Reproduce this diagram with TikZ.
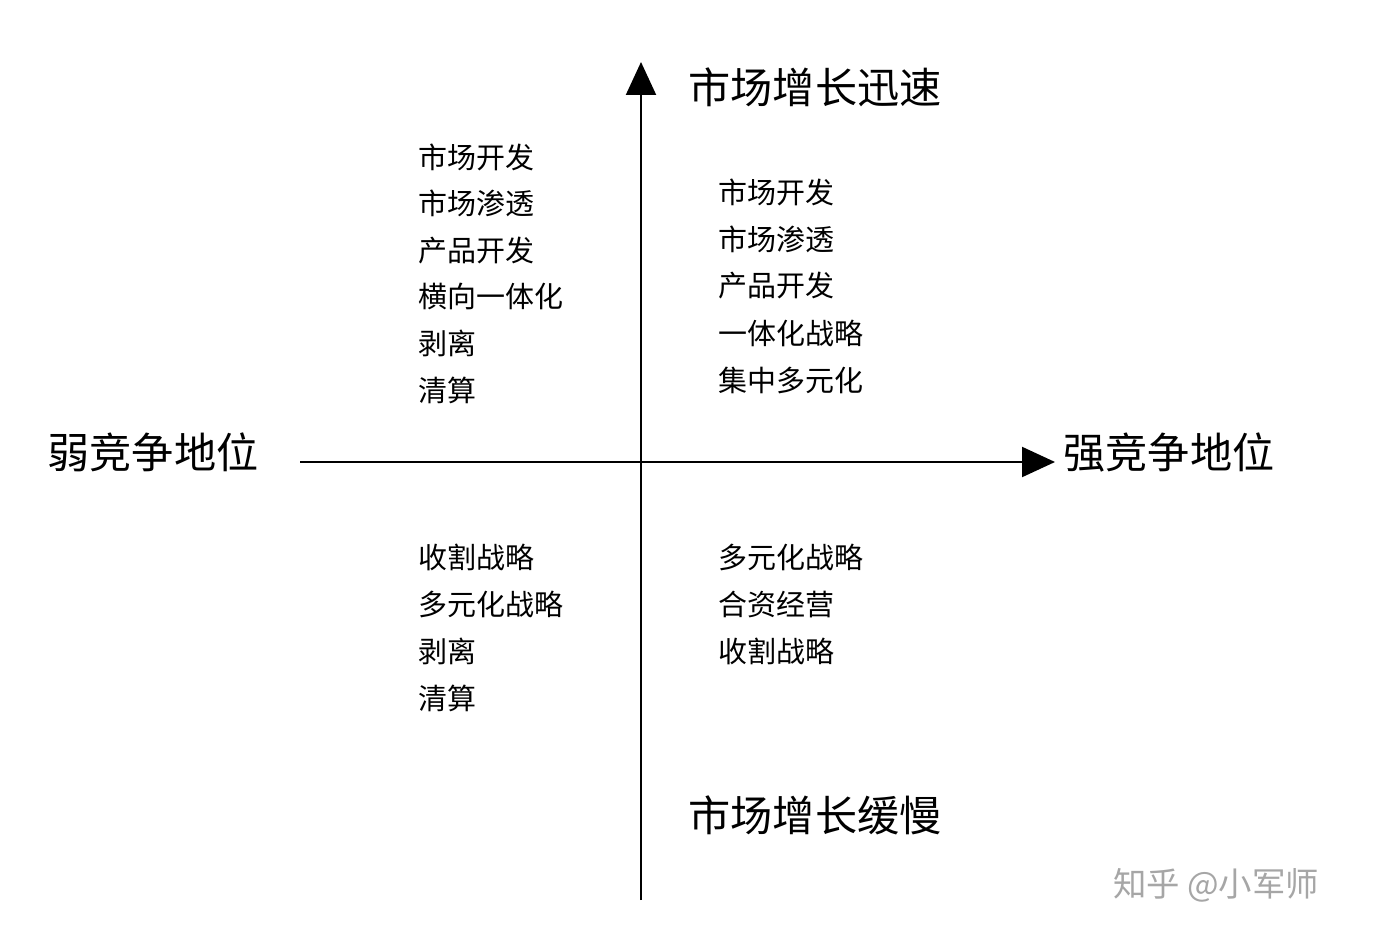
\documentclass[tikz,border=0pt]{standalone}
\usepackage{fontspec}
\setmainfont{Noto Sans CJK SC}
\usetikzlibrary{arrows.meta}
\begin{document}
\begin{tikzpicture}[x=0.02cm,y=-0.02cm,
  big/.style={font=\fontsize{24}{26}\selectfont,inner sep=0},
  item/.style={font=\fontsize{16.5}{18}\selectfont,inner sep=0,anchor=west},
  ax/.style={line width=1.2pt,-{Triangle[length=0.66cm,width=0.6cm]}}]
\useasboundingbox (0,0) rectangle (1379,946);
\coordinate (vb) at (641,900);
\coordinate (vt) at (641,62);
\coordinate (hl) at (300,462);
\coordinate (hr) at (1055,462);
\draw[ax] (vb) -- (vt);
\draw[ax] (hl) -- (hr);
\node[big] (t) at (815,87) {市场增长迅速};
\node[big] (b) at (815,815) {市场增长缓慢};
\node[big] (l) at (153,452) {弱竞争地位};
\node[big] (r) at (1169,452) {强竞争地位};
\foreach \t [count=\i] in {市场开发,市场渗透,产品开发,横向一体化,剥离,清算}
  \node[item] (a\i) at (418,{157+(\i-1)*46.6}) {\t};
\foreach \t [count=\i] in {市场开发,市场渗透,产品开发,一体化战略,集中多元化}
  \node[item] (b\i) at (718,{192+(\i-1)*47}) {\t};
\foreach \t [count=\i] in {收割战略,多元化战略,剥离,清算}
  \node[item] (c\i) at (418,{557+(\i-1)*47.3}) {\t};
\foreach \t [count=\i] in {多元化战略,合资经营,收割战略}
  \node[item] (d\i) at (718,{557+(\i-1)*47}) {\t};
\node[font=\fontsize{19}{20}\selectfont,text=black!35,inner sep=0] (w) at (1216,885) {知乎 @小军师};
\end{tikzpicture}
\end{document}
